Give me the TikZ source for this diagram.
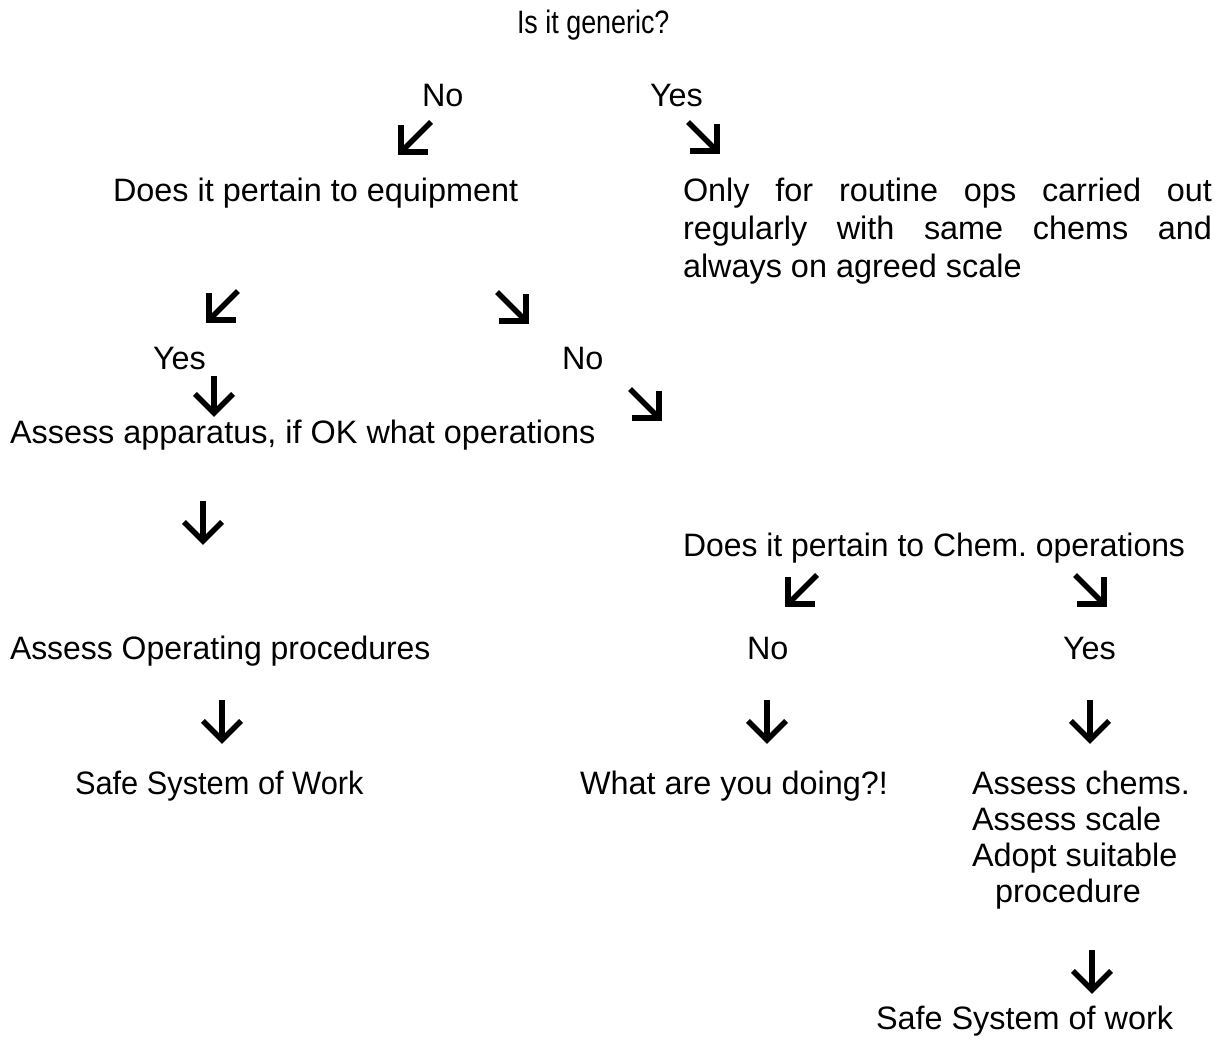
\documentclass[tikz,border=0pt]{standalone}
\usepackage{fontspec}
\setmainfont{Liberation Sans}
\usetikzlibrary{calc}
\frenchspacing
\tikzset{
  lbl/.style={anchor=base west, inner sep=0pt, outer sep=0pt, font=\fontsize{32.4}{38}\selectfont},
  glyph/.style={line width=5.5pt, line join=miter, miter limit=10},
}
\newcommand{\glypharrow}[2]{%
  \draw[glyph] (#1) -- (#2);
  \draw[glyph] ($(#2)!27pt!45:(#1)$) -- (#2) -- ($(#2)!27pt!-45:(#1)$);
}
\begin{document}
\begin{tikzpicture}[x=1pt,y=-1pt]
\useasboundingbox (0,0) rectangle (1228,1042);
% texts
\node[lbl] (q1) at (517,33) {\scalebox{0.83}[1]{Is it generic?}};
\node[lbl] (no1) at (422,106) {No};
\node[lbl] (yes1) at (650,106) {Yes};
\node[lbl] (equip) at (113,201) {Does it pertain to equipment};
\node[lbl] (only1) at (683,201) {\makebox[529pt][s]{Only for routine ops carried out}};
\node[lbl] (only2) at (683,239) {\makebox[529pt][s]{regularly with same chems and}};
\node[lbl] (only3) at (683,277) {always on agreed scale};
\node[lbl] (yes2) at (153,369) {Yes};
\node[lbl] (no2) at (562,369) {No};
\node[lbl] (app) at (10,443) {Assess apparatus, if OK what operations};
\node[lbl] (chem) at (683,556) {\scalebox{0.985}[1]{Does it pertain to Chem. operations}};
\node[lbl] (oper) at (10,659) {\scalebox{0.985}[1]{Assess Operating procedures}};
\node[lbl] (no3) at (747,659) {No};
\node[lbl] (yes3) at (1063,659) {Yes};
\node[lbl] (ssw1) at (75,794) {\scalebox{0.95}[1]{Safe System of Work}};
\node[lbl] (what) at (580,794) {What are you doing?!};
\node[lbl] (ac1) at (972,794) {Assess chems.};
\node[lbl] (ac2) at (972,830) {Assess scale};
\node[lbl] (ac3) at (972,866) {Adopt suitable};
\node[lbl] (ac4) at (995,902) {procedure};
\node[lbl] (ssw2) at (876,1029) {Safe System of work};
% arrow glyph coordinates (tail, tip)
\coordinate (a1s) at (431,122); \coordinate (a1e) at (401,152);
\coordinate (a2s) at (688,122); \coordinate (a2e) at (717,151);
\coordinate (a3s) at (238,291); \coordinate (a3e) at (209,320);
\coordinate (a4s) at (497,292); \coordinate (a4e) at (526,321);
\coordinate (a5s) at (214,376); \coordinate (a5e) at (214,413);
\coordinate (a6s) at (630,389); \coordinate (a6e) at (659,418);
\coordinate (a7s) at (203,501); \coordinate (a7e) at (203,541);
\coordinate (a8s) at (817,575); \coordinate (a8e) at (788,604);
\coordinate (a9s) at (1075,575); \coordinate (a9e) at (1104,604);
\coordinate (a10s) at (222,700); \coordinate (a10e) at (222,740);
\coordinate (a11s) at (767,700); \coordinate (a11e) at (767,740);
\coordinate (a12s) at (1090,700); \coordinate (a12e) at (1090,740);
\coordinate (a13s) at (1092,950); \coordinate (a13e) at (1092,990);
\foreach \i in {1,...,13} {\glypharrow{a\i s}{a\i e}}
\end{tikzpicture}
\end{document}
